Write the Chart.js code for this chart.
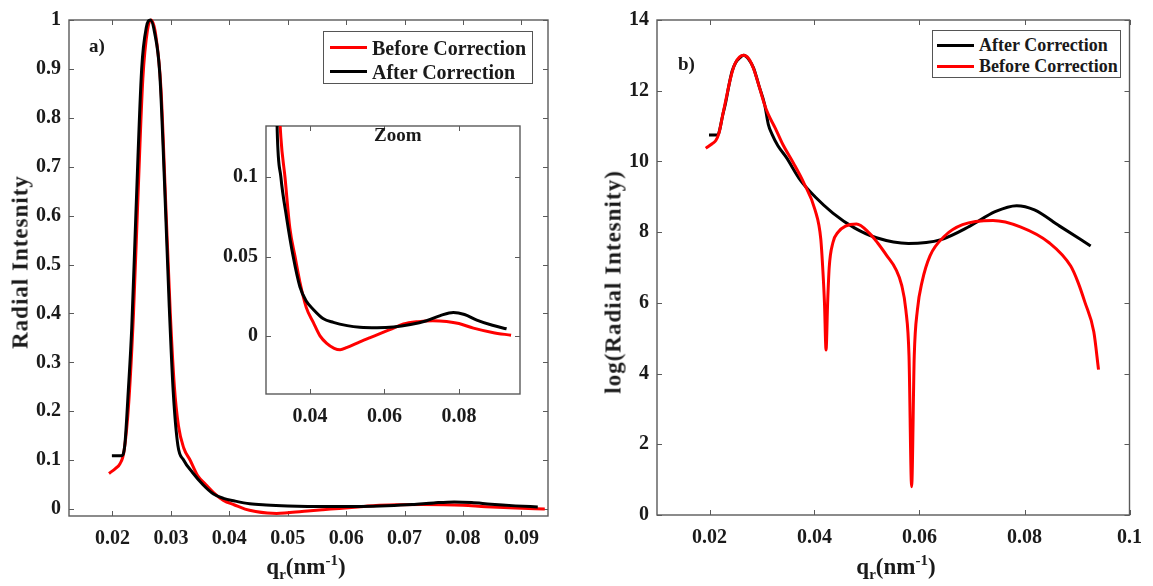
<!DOCTYPE html>
<html>
<head>
<meta charset="utf-8">
<script src="https://cdn.jsdelivr.net/npm/chart.js@4"></script>
<style>
  body { margin: 0; background: #fff; }
  #page { position: relative; width: 1153px; height: 586px; overflow: hidden; font-family: 'Liberation Serif', 'Times New Roman', serif; font-weight: bold; color: #1a1a1a; }
  canvas { position: absolute; }
  .lbl { position: absolute; white-space: nowrap; line-height: 1; }
  .xt { position: absolute; font-size: 23px; transform: translateX(-50%); white-space: nowrap; }
  .xt sub { font-size: 15px; vertical-align: -5px; }
  .xt sup { font-size: 15px; vertical-align: 9px; }
  .yt { position: absolute; font-size: 23px; letter-spacing: 1px; white-space: nowrap; line-height: 1; transform: translate(-50%, -50%) rotate(-90deg); }
  .legend { position: absolute; border: 1px solid #555; background: #fff; }
  .row { position: absolute; left: 0; white-space: nowrap; line-height: 1; }
  .sw { position: absolute; height: 3px; }
</style>
</head>
<body>
<div id="page">
  <canvas id="chartA" width="570" height="586" style="left:0;top:0"></canvas>
  <canvas id="chartZoom" width="315" height="330" style="left:215px;top:106px"></canvas>
  <canvas id="chartB" width="573" height="586" style="left:580px;top:0"></canvas>

  <div class="lbl" style="left:89px;top:36px;font-size:19px">a)</div>
  <div class="lbl" style="left:678px;top:54px;font-size:19px">b)</div>
  <div class="lbl" style="left:374px;top:125px;font-size:19px">Zoom</div>

  <div class="legend" style="left:323px;top:31px;width:208px;height:51px">
    <div class="sw" style="left:6px;top:14px;width:37px;background:#ff0000"></div>
    <div class="row" style="left:48px;top:6px;font-size:20px">Before Correction</div>
    <div class="sw" style="left:6px;top:38px;width:37px;background:#000"></div>
    <div class="row" style="left:48px;top:30px;font-size:20px">After Correction</div>
  </div>
  <div class="legend" style="left:932px;top:30px;width:187px;height:46px">
    <div class="sw" style="left:4px;top:13px;width:37px;background:#000"></div>
    <div class="row" style="left:46px;top:5px;font-size:18px">After Correction</div>
    <div class="sw" style="left:4px;top:34px;width:37px;background:#ff0000"></div>
    <div class="row" style="left:46px;top:26px;font-size:18px">Before Correction</div>
  </div>

  <div class="yt" style="left:20px;top:262px">Radial Intesnity</div>
  <div class="yt" style="left:613px;top:282px">log(Radial Intesnity)</div>
  <div class="xt" style="left:306px;top:552px">q<sub>r</sub>(nm<sup>-1</sup>)</div>
  <div class="xt" style="left:896px;top:552px">q<sub>r</sub>(nm<sup>-1</sup>)</div>
</div>
<script>
// panel a) + zoom: normalised radial intensity
const qAfter = [0.0199, 0.0215, 0.0221, 0.0227, 0.0233, 0.0240, 0.0250, 0.0258, 0.0265, 0.0272, 0.0281, 0.0289, 0.0297, 0.0304, 0.0312, 0.0322, 0.0337, 0.0355, 0.0373, 0.0390, 0.0409, 0.0435, 0.0463, 0.0500, 0.0534, 0.0580, 0.0624, 0.0670, 0.0713, 0.0750, 0.0785, 0.0815, 0.0848, 0.0890, 0.0928];
const iAfter = [0.109, 0.109, 0.13, 0.24, 0.37, 0.60, 0.90, 0.985, 1.0, 0.975, 0.89, 0.67, 0.42, 0.24, 0.13, 0.10, 0.075, 0.05, 0.031, 0.022, 0.0167, 0.011, 0.0085, 0.0065, 0.0055, 0.0052, 0.0056, 0.0072, 0.0096, 0.0128, 0.0148, 0.0135, 0.0100, 0.0067, 0.0045];

const qBefore = [0.0194, 0.0205, 0.0213, 0.0220, 0.0228, 0.0236, 0.0244, 0.0252, 0.0260, 0.0266, 0.0274, 0.0283, 0.0291, 0.0299, 0.0306, 0.0313, 0.0322, 0.0333, 0.0346, 0.0360, 0.0373, 0.0390, 0.0409, 0.0427, 0.0445, 0.0465, 0.0481, 0.0500, 0.0534, 0.0560, 0.0588, 0.0620, 0.0651, 0.0690, 0.0730, 0.0767, 0.0800, 0.0839, 0.0890, 0.0940];
const iBefore = [0.073, 0.083, 0.093, 0.12, 0.22, 0.40, 0.65, 0.88, 0.98, 1.0, 0.97, 0.86, 0.63, 0.40, 0.25, 0.17, 0.125, 0.10, 0.068, 0.05, 0.034, 0.018, 0.0085, 0.0, -0.0047, -0.0078, -0.0087, -0.0072, -0.0037, -0.0012, 0.0014, 0.0045, 0.0075, 0.009, 0.0096, 0.0091, 0.0078, 0.0049, 0.0022, 0.0004];

// panel b): log of radial intensity
const qLogAfter = [0.0199, 0.0216, 0.0219, 0.0225, 0.0230, 0.0237, 0.0243, 0.0250, 0.0257, 0.0265, 0.0275, 0.0284, 0.0295, 0.0305, 0.0312, 0.0319, 0.0330, 0.0346, 0.0373, 0.0401, 0.0435, 0.0476, 0.0518, 0.0579, 0.0641, 0.0696, 0.0744, 0.0785, 0.0819, 0.0867, 0.0926];
const logAfter = [10.75, 10.75, 10.87, 11.3, 11.61, 12.15, 12.55, 12.8, 12.92, 13.0, 12.88, 12.64, 12.1, 11.61, 11.05, 10.77, 10.45, 10.12, 9.47, 9.0, 8.54, 8.12, 7.84, 7.68, 7.79, 8.17, 8.58, 8.75, 8.63, 8.17, 7.61];

const qLogBefore = [0.0193, 0.0205, 0.0212, 0.0218, 0.0225, 0.0232, 0.0240, 0.0248, 0.0257, 0.0265, 0.0275, 0.0284, 0.0295, 0.0305, 0.0312, 0.0325, 0.0339, 0.0360, 0.0380, 0.0401, 0.0412, 0.0416, 0.0419, 0.0422, 0.0425, 0.0428, 0.0435, 0.0445, 0.0459, 0.0480, 0.0504, 0.0520, 0.0538, 0.0555, 0.0566, 0.0574, 0.0580, 0.0585, 0.0590, 0.0596, 0.0605, 0.0620, 0.0648, 0.0682, 0.0740, 0.0792, 0.0847, 0.0888, 0.0902, 0.0915, 0.0932, 0.0941];
const logBefore = [10.37, 10.5, 10.59, 10.8, 11.3, 11.8, 12.35, 12.75, 12.95, 13.0, 12.9, 12.62, 12.1, 11.6, 11.33, 10.95, 10.5, 9.95, 9.38, 8.63, 7.8, 6.9, 6.0, 4.67, 6.0, 7.0, 7.7, 8.0, 8.17, 8.23, 7.98, 7.7, 7.33, 6.95, 6.5, 5.8, 4.5, 0.80, 4.5, 5.8, 6.6, 7.33, 7.89, 8.21, 8.33, 8.15, 7.70, 7.04, 6.58, 6.02, 5.18, 4.11];

const xTicksA = [0.02, 0.03, 0.04, 0.05, 0.06, 0.07, 0.08, 0.09];
const yTicksA = [0, 0.1, 0.2, 0.3, 0.4, 0.5, 0.6, 0.7, 0.8, 0.9, 1];
const xTicksZoom = [0.04, 0.06, 0.08];
const yTicksZoom = [0, 0.05, 0.1];
const xTicksB = [0.02, 0.04, 0.06, 0.08, 0.1];
const yTicksB = [0, 2, 4, 6, 8, 10, 12, 14];

const FONT = "'Liberation Serif', 'Times New Roman', serif";
const AXIS = "#5a5a5a";
const TXT = "#1a1a1a";

const pts = (xs, ys) => xs.map((x, i) => ({ x, y: ys[i] }));
const fmt = v => String(Number(v.toFixed(3)));

// MATLAB style box with inward ticks
const boxPlugin = {
    id: "box",
    beforeDatasetsDraw(chart) {
        const { ctx, chartArea: a, scales: { x, y } } = chart;
        ctx.save();
        ctx.fillStyle = "#fff";
        ctx.fillRect(a.left, a.top, a.right - a.left, a.bottom - a.top);
        ctx.strokeStyle = AXIS;
        ctx.lineWidth = 1.4;
        ctx.strokeRect(a.left, a.top, a.right - a.left, a.bottom - a.top);
        const t = 5;
        ctx.beginPath();
        x.ticks.forEach(tk => {
            const p = Math.round(x.getPixelForValue(tk.value)) + 0.5;
            ctx.moveTo(p, a.bottom); ctx.lineTo(p, a.bottom - t);
            ctx.moveTo(p, a.top); ctx.lineTo(p, a.top + t);
        });
        y.ticks.forEach(tk => {
            const p = Math.round(y.getPixelForValue(tk.value)) + 0.5;
            ctx.moveTo(a.left, p); ctx.lineTo(a.left + t, p);
            ctx.moveTo(a.right, p); ctx.lineTo(a.right - t, p);
        });
        ctx.lineWidth = 1;
        ctx.stroke();
        ctx.restore();
    }
};

function line(data, color, order, clip) {
    return {
        data, borderColor: color, borderWidth: 3, pointRadius: 0,
        cubicInterpolationMode: "monotone", clip, order
    };
}

function makeChart(id, o) {
    return new Chart(document.getElementById(id), {
        type: "line",
        data: { datasets: o.datasets },
        plugins: [boxPlugin],
        options: {
            responsive: false,
            animation: false,
            events: [],
            layout: { padding: o.padding },
            plugins: { legend: { display: false }, tooltip: { enabled: false } },
            scales: {
                x: {
                    type: "linear", min: o.xMin, max: o.xMax,
                    grid: { display: false, drawTicks: false },
                    border: { display: false },
                    afterBuildTicks: s => { s.ticks = o.xTicks.map(v => ({ value: v })); },
                    afterFit: s => { s.height = o.xHeight; },
                    ticks: { color: TXT, padding: 11, maxRotation: 0, autoSkip: false,
                        font: { family: FONT, size: 20, weight: "bold" }, callback: fmt }
                },
                y: {
                    type: "linear", min: o.yMin, max: o.yMax,
                    grid: { display: false, drawTicks: false },
                    border: { display: false },
                    afterBuildTicks: s => { s.ticks = o.yTicks.map(v => ({ value: v })); },
                    afterFit: s => { s.width = o.yWidth; },
                    ticks: { color: TXT, padding: 8, autoSkip: false,
                        font: { family: FONT, size: 20, weight: "bold" }, callback: fmt }
                }
            }
        }
    });
}

makeChart("chartA", {
    datasets: [
        line(pts(qBefore, iBefore), "#ff0000", 1, false),
        line(pts(qAfter, iAfter), "#000000", 0, false)
    ],
    padding: { top: 14, right: 22, left: 0, bottom: 0 },
    xMin: 0.01256, xMax: 0.09455, yMin: -0.014, yMax: 1,
    xTicks: xTicksA, yTicks: yTicksA,
    xHeight: 70, yWidth: 69
});

makeChart("chartZoom", {
    datasets: [
        line(pts(qBefore, iBefore), "#ff0000", 1, 0),
        line(pts(qAfter, iAfter), "#000000", 0, 0)
    ],
    padding: { top: 10, right: 10, left: 0, bottom: 0 },
    xMin: 0.0282, xMax: 0.0964, yMin: -0.0366, yMax: 0.1323,
    xTicks: xTicksZoom, yTicks: yTicksZoom,
    xHeight: 42, yWidth: 51
});

makeChart("chartB", {
    datasets: [
        line(pts(qLogAfter, logAfter), "#000000", 1, false),
        line(pts(qLogBefore, logBefore), "#ff0000", 0, false)
    ],
    padding: { top: 15, right: 16, left: 0, bottom: 0 },
    xMin: 0.01, xMax: 0.1, yMin: 0, yMax: 14,
    xTicks: xTicksB, yTicks: yTicksB,
    xHeight: 71, yWidth: 77
});
</script>
</body>
</html>
